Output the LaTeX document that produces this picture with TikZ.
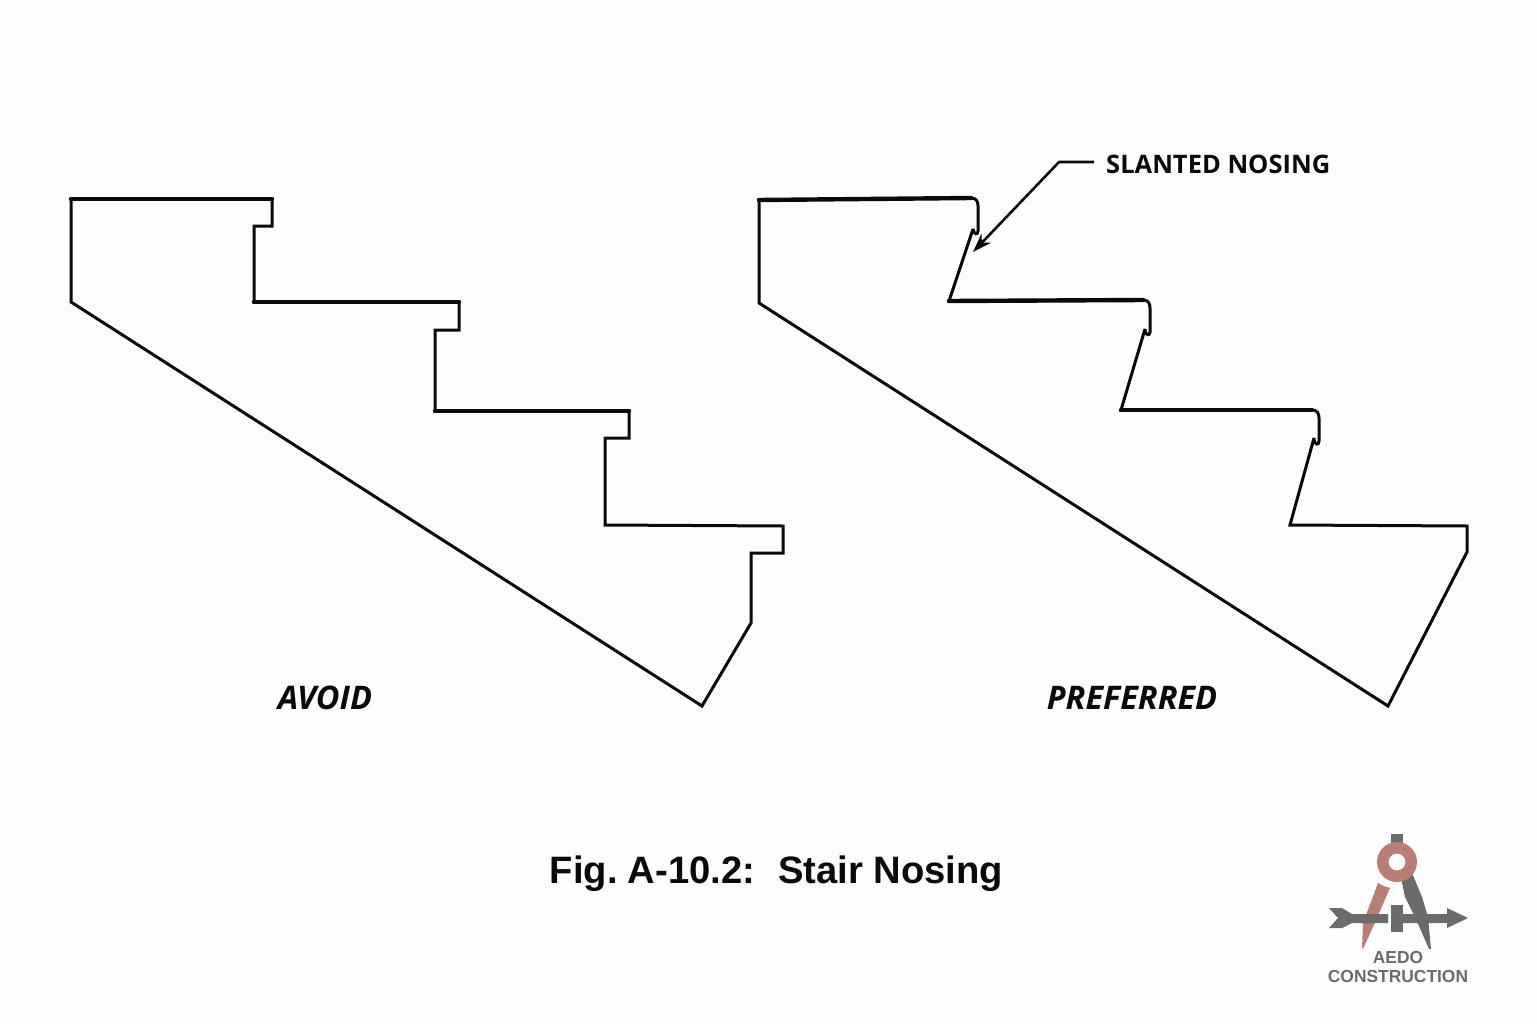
\documentclass[tikz,border=0pt]{standalone}
\usepackage{fontspec}
\setmainfont{Liberation Sans}
\newfontfamily\labelfont{Open Sans}
\usetikzlibrary{arrows.meta}
\definecolor{bgc}{HTML}{FDFDFD}
\definecolor{ink}{HTML}{0A0A0A}
\definecolor{logogray}{HTML}{6B6B6B}
\definecolor{logopink}{HTML}{B97F76}
\tikzset{
  outline/.style={draw=ink,line width=3pt,line join=miter,miter limit=2,fill=none},
  tread/.style={draw=ink,line width=4.4pt,line cap=round},
  caption/.style={font=\labelfont\bfseries\itshape\fontsize{32.5}{36}\selectfont,text=ink,inner sep=0pt},
  callout/.style={font=\labelfont\fontsize{25.5}{30}\selectfont\bfseries,text=ink,inner sep=0pt},
  figtitle/.style={font=\bfseries\fontsize{38.2}{42}\selectfont,text=ink,inner sep=0pt},
  logotext/.style={font=\bfseries\fontsize{17.4}{22}\selectfont,text=logogray,inner sep=0pt},
  leader/.style={draw=ink,line width=2.6pt,line join=round,-{Stealth[length=19pt,width=13pt]}},
  logoshape/.style={fill=logogray,draw=none},
  logopinkshape/.style={fill=logopink,draw=none}
}
\begin{document}
\begin{tikzpicture}[x=1pt,y=-1pt]
\useasboundingbox (0,0) rectangle (1537,1023);
\fill[bgc] (0,0) rectangle (1537,1023);
% AVOID stair
\draw[outline] (71,199) -- (272,199) -- (272,226) -- (254,226) -- (254,302) -- (459,302) -- (459,330) -- (435,330) -- (435,411) -- (629,411) -- (629,438) -- (605,438) -- (605,525) -- (783,526) -- (783,553) -- (751,553) -- (751,623) -- (702,706) -- (71,302) -- cycle;
\draw[tread] (71,199) -- (272,199);
\draw[tread] (254,302) -- (459,302);
\draw[tread] (435,411) -- (629,411);
% PREFERRED stair
\draw[outline] (759,200) -- (971,198) .. controls (976,198) and (978,201) .. (978,206) -- (978,231) .. controls (978,235) and (974,235) .. (973,229) -- (949,301) -- (1143,300) .. controls (1148,300) and (1150,303) .. (1150,308) -- (1150,332) .. controls (1150,336) and (1145,336) .. (1145,329) -- (1121,410) -- (1312,410) .. controls (1317,410) and (1319,413) .. (1319,418) -- (1319,441) .. controls (1319,446) and (1314,445) .. (1314,438) -- (1290,525) -- (1467,526) -- (1467,552) -- (1388,706) -- (759,303) -- cycle;
\draw[tread] (949,301) -- (1143,300);
\draw[tread] (1121,410) -- (1312,410);
\draw[tread] (759,200) -- (971,198);
% Labels
\node[caption] (avoid) at (325,698) {AVOID};
\node[caption] (preferred) at (1132,698) {PREFERRED};
\node[callout,anchor=west] (slanted) at (1106,164) {SLANTED NOSING};
\node[figtitle] (title) at (776.5,874) {Fig.\hspace{-4pt} A-10.2:\hspace{0.6em}Stair Nosing};
% Leader
\coordinate (nosingtip) at (973,252);
\coordinate (bend) at (1059,162);
\draw[leader] ([xshift=-12pt,yshift=2pt]slanted.west) -- (bend) -- (nosingtip);
% Logo
\fill[logoshape] (1391,834) rectangle (1403,852);
\fill[logoshape] (1401,878) -- (1412,873) -- (1422,897) -- (1428,917) -- (1431,949) -- (1429,949) -- (1415,917) -- (1405,897) -- cycle;
\fill[logopinkshape,even odd rule] (1397,862) circle[radius=20] (1397,862) circle[radius=8.5];
\fill[logopinkshape] (1378,883) .. controls (1383,886) and (1386,887) .. (1390,888) -- (1373,927) -- (1363,949) -- (1362,948) -- (1363,923) -- cycle;
\fill[logoshape] (1329,908) -- (1342,908) -- (1352,914) -- (1388,914) -- (1388,923) -- (1352,923) -- (1342,928) -- (1329,928) -- (1338,918) -- cycle;
\fill[logoshape] (1391,905) rectangle (1403,932);
\fill[logoshape] (1403,914) -- (1447,914) -- (1447,908) -- (1468,918) -- (1447,928) -- (1447,923) -- (1403,923) -- cycle;
\node[logotext] (aedo) at (1398,957) {AEDO};
\node[logotext] (construction) at (1398,976) {CONSTRUCTION};
\end{tikzpicture}
\end{document}
